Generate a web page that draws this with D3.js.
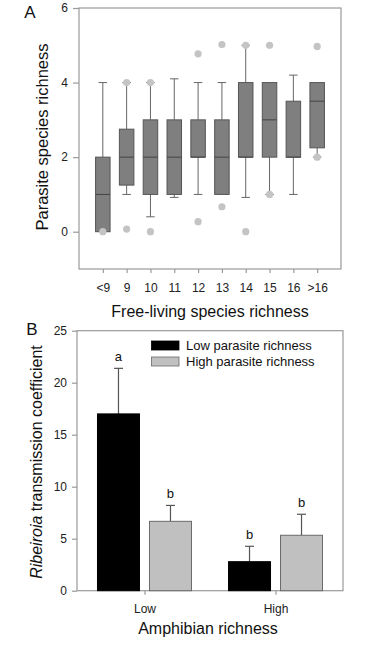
<!DOCTYPE html>
<html><head><meta charset="utf-8">
<script src="https://cdn.jsdelivr.net/npm/d3@7"></script>
<style>body{margin:0;background:#fff}svg{display:block;font-family:"Liberation Sans",Arial,sans-serif}</style>
</head><body><svg id="c" width="378" height="649"></svg>
<script>
// Panel A data
const categoriesA = ["<9","9","10","11","12","13","14","15","16",">16"];
const whiskerLow  = [0, 1, 0.4, 0.92, 1, 1, 0.92, 1, 1, 2];
const q1          = [0, 1.25, 1, 1, 2, 1, 2, 2, 2, 2.25];
const medians     = [1, 2, 2, 2, 2, 2, 2, 3, 2, 3.5];
const q3          = [2, 2.75, 3, 3, 3, 3, 4, 4, 3.5, 4];
const whiskerHigh = [4, 4, 4, 4.1, 4, 4, 5, 4, 4.2, 4];
const outliers    = [[0],[4,0.07],[4,0],[],[4.77,0.27],[5.02,0.67],[5,0],[5,1],[],[4.97,2]];
const yTicksA = [0,2,4,6];

// Panel B data
const groupsB = ["Low","High"];
const seriesB = ["Low parasite richness","High parasite richness"];
const lowParasite  = [17.0, 2.79];
const highParasite = [6.67, 5.33];
const lowErr  = [4.38, 1.48];
const highErr = [1.53, 2.02];
const lettersLow  = ["a","b"];
const lettersHigh = ["b","b"];
const yTicksB = [0,5,10,15,20,25];

const svg = d3.select("#c");
const frameCol = "#9a9a9a";

// ---------- Panel A ----------
const xA = d3.scalePoint().domain(categoriesA).range([79,341]).padding(1);
const yA = d3.scaleLinear().domain([-1,6]).range([269,8]);
const gA = svg.append("g");
gA.append("rect").attr("x",79).attr("y",8).attr("width",262).attr("height",261)
  .attr("fill","none").attr("stroke",frameCol).attr("stroke-width",1.2);
const axLA = gA.append("g").attr("transform","translate(79,0)")
  .call(d3.axisLeft(yA).tickValues(yTicksA).tickFormat(d3.format("d")).tickSize(6).tickPadding(5));
const axBA = gA.append("g").attr("transform","translate(0,269)")
  .call(d3.axisBottom(xA).tickSize(4).tickPadding(10));
[axLA,axBA].forEach(a=>{a.select(".domain").remove();
  a.selectAll("line").attr("stroke",frameCol).attr("stroke-width",1.2);
  a.selectAll("text").attr("font-size",12).attr("fill","#222").attr("font-family","Liberation Sans, Arial, sans-serif");});

const bw = 14.5, cap = 8.5;
categoriesA.forEach((c,i)=>{
  const cx = xA(c);
  const g = gA.append("g");
  g.append("line").attr("x1",cx).attr("x2",cx).attr("y1",yA(q3[i])).attr("y2",yA(whiskerHigh[i])).attr("stroke","#666").attr("stroke-width",1);
  g.append("line").attr("x1",cx).attr("x2",cx).attr("y1",yA(q1[i])).attr("y2",yA(whiskerLow[i])).attr("stroke","#666").attr("stroke-width",1);
  if (whiskerHigh[i] > q3[i]) g.append("line").attr("x1",cx-cap/2).attr("x2",cx+cap/2).attr("y1",yA(whiskerHigh[i])).attr("y2",yA(whiskerHigh[i])).attr("stroke","#666");
  if (whiskerLow[i] < q1[i]) g.append("line").attr("x1",cx-cap/2).attr("x2",cx+cap/2).attr("y1",yA(whiskerLow[i])).attr("y2",yA(whiskerLow[i])).attr("stroke","#666");
  g.append("rect").attr("x",cx-bw/2).attr("width",bw).attr("y",yA(q3[i])).attr("height",yA(q1[i])-yA(q3[i]))
    .attr("fill","#7f7f7f").attr("stroke","#555").attr("stroke-width",1);
  g.append("line").attr("x1",cx-bw/2).attr("x2",cx+bw/2).attr("y1",yA(medians[i])).attr("y2",yA(medians[i])).attr("stroke","#444").attr("stroke-width",1);
  outliers[i].forEach(v=>{
    gA.append("circle").attr("cx",cx).attr("cy",yA(v)).attr("r",3.6).attr("fill","#c4c4c4");
  });
});
gA.append("text").attr("x",30).attr("y",18).attr("text-anchor","middle").attr("font-size",17).attr("fill","#111").text("A");
gA.append("text").attr("transform","translate(48,137) rotate(-90)").attr("text-anchor","middle").attr("font-size",16.5).attr("fill","#111").text("Parasite species richness");
gA.append("text").attr("x",210).attr("y",317).attr("text-anchor","middle").attr("font-size",16).attr("fill","#111").text("Free-living species richness");

// ---------- Panel B ----------
const xB = d3.scalePoint().domain(groupsB).range([77,343]).padding(0.515);
const x1 = d3.scaleBand().domain(seriesB).range([-47,47]).paddingInner(0.1923);
const yB = d3.scaleLinear().domain([0,25]).range([590.7,330.7]);
const gB = svg.append("g");
gB.append("rect").attr("x",77).attr("y",330.7).attr("width",266).attr("height",260)
  .attr("fill","none").attr("stroke",frameCol).attr("stroke-width",1.2);
const axLB = gB.append("g").attr("transform","translate(77,0)")
  .call(d3.axisLeft(yB).tickValues(yTicksB).tickFormat(d3.format("d")).tickSize(5).tickPadding(5));
const axBB = gB.append("g").attr("transform","translate(0,590.7)")
  .call(d3.axisBottom(xB).tickSize(4).tickPadding(10));
[axLB,axBB].forEach(a=>{a.select(".domain").remove();
  a.selectAll("line").attr("stroke",frameCol).attr("stroke-width",1.2);
  a.selectAll("text").attr("font-size",12).attr("fill","#222").attr("font-family","Liberation Sans, Arial, sans-serif");});

const seriesVals = [lowParasite, highParasite];
const seriesErr = [lowErr, highErr];
const seriesLetters = [lettersLow, lettersHigh];
const fills = ["#000000","#c0c0c0"];
const strokes = ["#000000","#6a6a6a"];
seriesB.forEach((s,si)=>{
  groupsB.forEach((gname,gi)=>{
    const x0 = xB(gname) + x1(s);
    const w = x1.bandwidth();
    const v = seriesVals[si][gi], e = seriesErr[si][gi];
    const cx = x0 + w/2;
    gB.append("line").attr("x1",cx).attr("x2",cx).attr("y1",yB(v)).attr("y2",yB(v+e)).attr("stroke","#555").attr("stroke-width",1.2);
    gB.append("line").attr("x1",cx-4.5).attr("x2",cx+4.5).attr("y1",yB(v+e)).attr("y2",yB(v+e)).attr("stroke","#555").attr("stroke-width",1.2);
    gB.append("rect").attr("x",x0).attr("width",w).attr("y",yB(v)).attr("height",yB(0)-yB(v))
      .attr("fill",fills[si]).attr("stroke",strokes[si]).attr("stroke-width",1);
    gB.append("text").attr("x",cx).attr("y",yB(v+e)-7).attr("text-anchor","middle").attr("font-size",13).attr("fill","#111").text(seriesLetters[si][gi]);
  });
});
seriesB.forEach((s,si)=>{
  const ly = 341 + si*16;
  gB.append("rect").attr("x",151.5).attr("y",ly).attr("width",27.5).attr("height",9)
    .attr("fill",fills[si]).attr("stroke",strokes[si]).attr("stroke-width",0.8);
  gB.append("text").attr("x",186).attr("y",ly+9).attr("font-size",13).attr("fill","#111").text(s);
});
gB.append("text").attr("x",32).attr("y",335).attr("text-anchor","middle").attr("font-size",17).attr("fill","#111").text("B");
const yt = gB.append("text").attr("transform","translate(42,462) rotate(-90)").attr("text-anchor","middle").attr("font-size",16).attr("fill","#111");
yt.append("tspan").attr("font-style","italic").text("Ribeiroia");
yt.append("tspan").text(" transmission coefficient");
gB.append("text").attr("x",208).attr("y",634).attr("text-anchor","middle").attr("font-size",16).attr("fill","#111").text("Amphibian richness");
</script></body></html>
